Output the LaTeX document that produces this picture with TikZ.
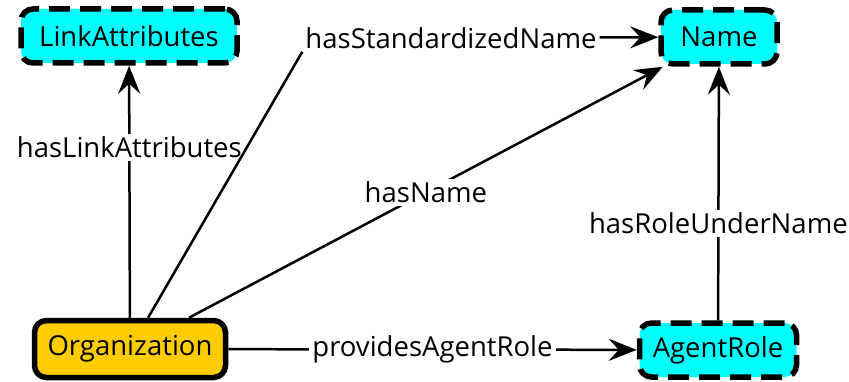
\documentclass[tikz,border=0pt]{standalone}
\usepackage{fontspec}
\setmainfont{Open Sans}
\usetikzlibrary{arrows.meta, positioning}
\definecolor{orgfill}{RGB}{255,204,0}
\definecolor{clsfill}{RGB}{0,255,255}
\begin{document}
\begin{tikzpicture}[x=1pt, y=-1pt,
    every node/.style={font=\fontsize{27.5}{33}\selectfont},
    cls/.style={draw, line width=5.5pt, dash pattern=on 21pt off 10pt, fill=clsfill, rounded corners=12pt, minimum height=54pt, inner sep=0pt},
    orgbox/.style={draw, line width=5.5pt, fill=orgfill, rounded corners=12pt, minimum height=57pt, inner sep=0pt},
    lbl/.style={fill=white, inner sep=3pt},
    edge/.style={line width=2.5pt, -{Stealth[length=28pt, width=22pt, inset=10pt]}}]
    \useasboundingbox (0,0) rectangle (849,382);
    \node[cls, minimum width=216pt] (link) at (129,36) {LinkAttributes};
    \node[cls, minimum width=116pt] (name) at (719,37) {Name};
    \node[orgbox, minimum width=191pt] (org) at (130,349) {Organization};
    \node[cls, minimum width=157pt] (role) at (718,350) {AgentRole};
    \node[lbl] (std) at (451,38) {hasStandardizedName};
    \draw[edge] (org) -- node[lbl, pos=0.676] {hasLinkAttributes} (link);
    \draw[line width=2.5pt] (org) -- (std.south west);
    \draw[edge] (std) -- (name);
    \draw[edge] (org) -- node[lbl] {hasName} (name);
    \draw[edge] (role) -- node[lbl, pos=0.382] {hasRoleUnderName} (name);
    \draw[edge] (org) -- node[lbl] {providesAgentRole} (role);
\end{tikzpicture}
\end{document}
